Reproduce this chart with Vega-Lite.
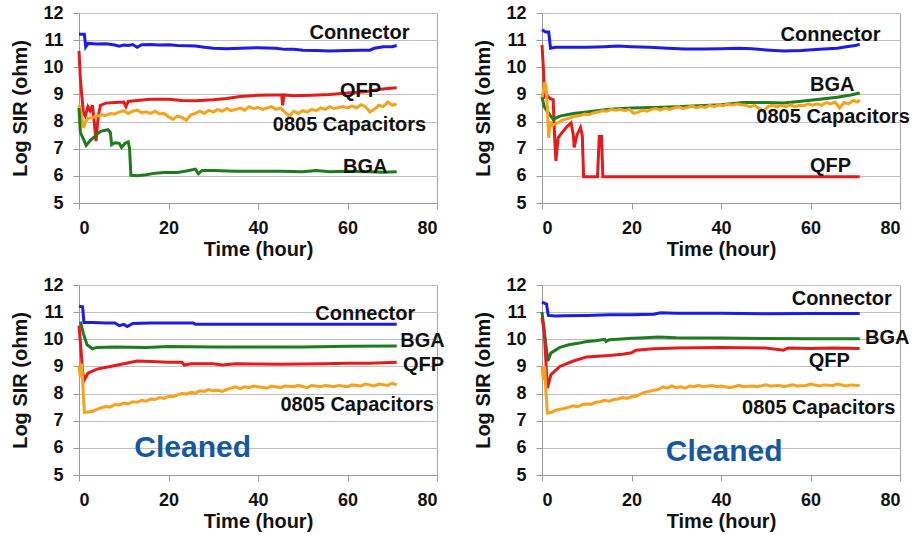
{
 "$schema": "https://vega.github.io/schema/vega-lite/v6.json",
 "padding": {"left": 10, "top": 3, "right": 5, "bottom": 5},
 "config": {
  "font": "Liberation Sans",
  "view": {"stroke": "#a8a8a8", "strokeWidth": 1},
  "axis": {"labelFont": "Liberation Sans", "labelFontWeight": "bold", "labelFontSize": 18, "labelColor": "#111111", "titleFont": "Liberation Sans", "titleFontWeight": "bold", "titleFontSize": 20, "titleColor": "#111111", "domainColor": "#9a9a9a", "tickColor": "#9a9a9a", "tickSize": 6, "gridColor": "#c0c0c0", "labelPadding": 10, "labelOverlap": false, "labelBound": false},
  "line": {"strokeWidth": 3},
  "text": {"font": "Liberation Sans", "fontWeight": "bold"}
 },
 "data": {"values": [
  {"p":1,"s":"Connector","t":0,"v":11.22},{"p":1,"s":"Connector","t":1.2,"v":11.22},{"p":1,"s":"Connector","t":1.5,"v":10.75},{"p":1,"s":"Connector","t":2,"v":10.88},{"p":1,"s":"Connector","t":4,"v":10.86},{"p":1,"s":"Connector","t":6,"v":10.87},{"p":1,"s":"Connector","t":8,"v":10.82},{"p":1,"s":"Connector","t":9,"v":10.78},{"p":1,"s":"Connector","t":10,"v":10.82},{"p":1,"s":"Connector","t":11,"v":10.8},{"p":1,"s":"Connector","t":12,"v":10.84},{"p":1,"s":"Connector","t":13,"v":10.74},{"p":1,"s":"Connector","t":14,"v":10.83},{"p":1,"s":"Connector","t":16,"v":10.84},{"p":1,"s":"Connector","t":18,"v":10.82},{"p":1,"s":"Connector","t":20,"v":10.83},{"p":1,"s":"Connector","t":22,"v":10.8},{"p":1,"s":"Connector","t":24,"v":10.79},{"p":1,"s":"Connector","t":26,"v":10.78},{"p":1,"s":"Connector","t":28,"v":10.74},{"p":1,"s":"Connector","t":30,"v":10.7},{"p":1,"s":"Connector","t":33,"v":10.68},{"p":1,"s":"Connector","t":36,"v":10.7},{"p":1,"s":"Connector","t":40,"v":10.72},{"p":1,"s":"Connector","t":44,"v":10.7},{"p":1,"s":"Connector","t":46,"v":10.66},{"p":1,"s":"Connector","t":48,"v":10.66},{"p":1,"s":"Connector","t":50,"v":10.63},{"p":1,"s":"Connector","t":53,"v":10.62},{"p":1,"s":"Connector","t":56,"v":10.6},{"p":1,"s":"Connector","t":60,"v":10.62},{"p":1,"s":"Connector","t":63,"v":10.63},{"p":1,"s":"Connector","t":65,"v":10.63},{"p":1,"s":"Connector","t":66,"v":10.7},{"p":1,"s":"Connector","t":68,"v":10.76},{"p":1,"s":"Connector","t":70,"v":10.76},{"p":1,"s":"Connector","t":71,"v":10.8},

  {"p":1,"s":"QFP","t":0,"v":10.6},{"p":1,"s":"QFP","t":0.3,"v":9.6},{"p":1,"s":"QFP","t":0.6,"v":9.0},{"p":1,"s":"QFP","t":1,"v":8.3},{"p":1,"s":"QFP","t":1.4,"v":8.2},{"p":1,"s":"QFP","t":2,"v":8.55},{"p":1,"s":"QFP","t":2.5,"v":8.4},{"p":1,"s":"QFP","t":3,"v":8.6},{"p":1,"s":"QFP","t":3.4,"v":8.0},{"p":1,"s":"QFP","t":3.8,"v":7.28},{"p":1,"s":"QFP","t":4.3,"v":8.2},{"p":1,"s":"QFP","t":4.8,"v":8.6},{"p":1,"s":"QFP","t":6,"v":8.68},{"p":1,"s":"QFP","t":8,"v":8.7},{"p":1,"s":"QFP","t":10,"v":8.72},{"p":1,"s":"QFP","t":10.5,"v":8.55},{"p":1,"s":"QFP","t":11,"v":8.74},{"p":1,"s":"QFP","t":13,"v":8.78},{"p":1,"s":"QFP","t":16,"v":8.82},{"p":1,"s":"QFP","t":20,"v":8.82},{"p":1,"s":"QFP","t":23,"v":8.78},{"p":1,"s":"QFP","t":26,"v":8.77},{"p":1,"s":"QFP","t":30,"v":8.8},{"p":1,"s":"QFP","t":33,"v":8.85},{"p":1,"s":"QFP","t":36,"v":8.92},{"p":1,"s":"QFP","t":40,"v":8.97},{"p":1,"s":"QFP","t":43,"v":8.98},{"p":1,"s":"QFP","t":45.3,"v":8.98},{"p":1,"s":"QFP","t":45.5,"v":8.6},{"p":1,"s":"QFP","t":45.8,"v":8.98},{"p":1,"s":"QFP","t":48,"v":8.95},{"p":1,"s":"QFP","t":52,"v":8.97},{"p":1,"s":"QFP","t":56,"v":9.0},{"p":1,"s":"QFP","t":60,"v":9.05},{"p":1,"s":"QFP","t":64,"v":9.1},{"p":1,"s":"QFP","t":67,"v":9.18},{"p":1,"s":"QFP","t":69,"v":9.22},{"p":1,"s":"QFP","t":71,"v":9.25},

  {"p":1,"s":"0805 Capacitors","t":0,"v":8.62},{"p":1,"s":"0805 Capacitors","t":0.5,"v":8.3},{"p":1,"s":"0805 Capacitors","t":1,"v":7.76},{"p":1,"s":"0805 Capacitors","t":1.5,"v":8.0},{"p":1,"s":"0805 Capacitors","t":2,"v":8.12},{"p":1,"s":"0805 Capacitors","t":3,"v":8.15},{"p":1,"s":"0805 Capacitors","t":4,"v":8.2},{"p":1,"s":"0805 Capacitors","t":5,"v":8.25},{"p":1,"s":"0805 Capacitors","t":6,"v":8.22},{"p":1,"s":"0805 Capacitors","t":7,"v":8.3},{"p":1,"s":"0805 Capacitors","t":8,"v":8.28},{"p":1,"s":"0805 Capacitors","t":9,"v":8.35},{"p":1,"s":"0805 Capacitors","t":10,"v":8.4},{"p":1,"s":"0805 Capacitors","t":11,"v":8.3},{"p":1,"s":"0805 Capacitors","t":12,"v":8.38},{"p":1,"s":"0805 Capacitors","t":13,"v":8.42},{"p":1,"s":"0805 Capacitors","t":14,"v":8.33},{"p":1,"s":"0805 Capacitors","t":15,"v":8.36},{"p":1,"s":"0805 Capacitors","t":16,"v":8.3},{"p":1,"s":"0805 Capacitors","t":17,"v":8.38},{"p":1,"s":"0805 Capacitors","t":18,"v":8.28},{"p":1,"s":"0805 Capacitors","t":19,"v":8.3},{"p":1,"s":"0805 Capacitors","t":20,"v":8.18},{"p":1,"s":"0805 Capacitors","t":21,"v":8.08},{"p":1,"s":"0805 Capacitors","t":22,"v":8.2},{"p":1,"s":"0805 Capacitors","t":23,"v":8.15},{"p":1,"s":"0805 Capacitors","t":24,"v":8.05},{"p":1,"s":"0805 Capacitors","t":25,"v":8.25},{"p":1,"s":"0805 Capacitors","t":26,"v":8.3},{"p":1,"s":"0805 Capacitors","t":27,"v":8.38},{"p":1,"s":"0805 Capacitors","t":28,"v":8.3},{"p":1,"s":"0805 Capacitors","t":29,"v":8.42},{"p":1,"s":"0805 Capacitors","t":30,"v":8.35},{"p":1,"s":"0805 Capacitors","t":31,"v":8.45},{"p":1,"s":"0805 Capacitors","t":32,"v":8.38},{"p":1,"s":"0805 Capacitors","t":33,"v":8.48},{"p":1,"s":"0805 Capacitors","t":34,"v":8.4},{"p":1,"s":"0805 Capacitors","t":35,"v":8.45},{"p":1,"s":"0805 Capacitors","t":36,"v":8.5},{"p":1,"s":"0805 Capacitors","t":37,"v":8.42},{"p":1,"s":"0805 Capacitors","t":38,"v":8.55},{"p":1,"s":"0805 Capacitors","t":39,"v":8.48},{"p":1,"s":"0805 Capacitors","t":40,"v":8.52},{"p":1,"s":"0805 Capacitors","t":41,"v":8.45},{"p":1,"s":"0805 Capacitors","t":42,"v":8.5},{"p":1,"s":"0805 Capacitors","t":43,"v":8.55},{"p":1,"s":"0805 Capacitors","t":44,"v":8.45},{"p":1,"s":"0805 Capacitors","t":45,"v":8.5},{"p":1,"s":"0805 Capacitors","t":46,"v":8.35},{"p":1,"s":"0805 Capacitors","t":47,"v":8.2},{"p":1,"s":"0805 Capacitors","t":48,"v":8.38},{"p":1,"s":"0805 Capacitors","t":49,"v":8.3},{"p":1,"s":"0805 Capacitors","t":50,"v":8.4},{"p":1,"s":"0805 Capacitors","t":51,"v":8.35},{"p":1,"s":"0805 Capacitors","t":52,"v":8.45},{"p":1,"s":"0805 Capacitors","t":53,"v":8.4},{"p":1,"s":"0805 Capacitors","t":54,"v":8.5},{"p":1,"s":"0805 Capacitors","t":55,"v":8.45},{"p":1,"s":"0805 Capacitors","t":56,"v":8.55},{"p":1,"s":"0805 Capacitors","t":57,"v":8.48},{"p":1,"s":"0805 Capacitors","t":58,"v":8.52},{"p":1,"s":"0805 Capacitors","t":59,"v":8.55},{"p":1,"s":"0805 Capacitors","t":60,"v":8.5},{"p":1,"s":"0805 Capacitors","t":61,"v":8.58},{"p":1,"s":"0805 Capacitors","t":62,"v":8.5},{"p":1,"s":"0805 Capacitors","t":63,"v":8.62},{"p":1,"s":"0805 Capacitors","t":64,"v":8.55},{"p":1,"s":"0805 Capacitors","t":65,"v":8.35},{"p":1,"s":"0805 Capacitors","t":66,"v":8.45},{"p":1,"s":"0805 Capacitors","t":67,"v":8.6},{"p":1,"s":"0805 Capacitors","t":68,"v":8.55},{"p":1,"s":"0805 Capacitors","t":69,"v":8.72},{"p":1,"s":"0805 Capacitors","t":70,"v":8.6},{"p":1,"s":"0805 Capacitors","t":71,"v":8.65},

  {"p":1,"s":"BGA","t":0,"v":8.5},{"p":1,"s":"BGA","t":0.3,"v":7.6},{"p":1,"s":"BGA","t":1,"v":7.35},{"p":1,"s":"BGA","t":1.6,"v":7.12},{"p":1,"s":"BGA","t":2.5,"v":7.3},{"p":1,"s":"BGA","t":3.5,"v":7.45},{"p":1,"s":"BGA","t":4.5,"v":7.6},{"p":1,"s":"BGA","t":5,"v":7.65},{"p":1,"s":"BGA","t":6.5,"v":7.7},{"p":1,"s":"BGA","t":7,"v":7.6},{"p":1,"s":"BGA","t":7.3,"v":7.15},{"p":1,"s":"BGA","t":8,"v":7.22},{"p":1,"s":"BGA","t":9,"v":7.2},{"p":1,"s":"BGA","t":9.5,"v":7.05},{"p":1,"s":"BGA","t":10.3,"v":7.2},{"p":1,"s":"BGA","t":11,"v":7.25},{"p":1,"s":"BGA","t":11.3,"v":7.0},{"p":1,"s":"BGA","t":11.6,"v":6.02},{"p":1,"s":"BGA","t":13,"v":6.0},{"p":1,"s":"BGA","t":15,"v":6.04},{"p":1,"s":"BGA","t":17,"v":6.1},{"p":1,"s":"BGA","t":19,"v":6.12},{"p":1,"s":"BGA","t":22,"v":6.12},{"p":1,"s":"BGA","t":24,"v":6.18},{"p":1,"s":"BGA","t":26,"v":6.25},{"p":1,"s":"BGA","t":26.7,"v":6.08},{"p":1,"s":"BGA","t":27.5,"v":6.2},{"p":1,"s":"BGA","t":30,"v":6.2},{"p":1,"s":"BGA","t":35,"v":6.17},{"p":1,"s":"BGA","t":40,"v":6.17},{"p":1,"s":"BGA","t":45,"v":6.17},{"p":1,"s":"BGA","t":50,"v":6.15},{"p":1,"s":"BGA","t":53,"v":6.2},{"p":1,"s":"BGA","t":56,"v":6.15},{"p":1,"s":"BGA","t":60,"v":6.17},{"p":1,"s":"BGA","t":65,"v":6.15},{"p":1,"s":"BGA","t":68,"v":6.13},{"p":1,"s":"BGA","t":71,"v":6.15},

  {"p":2,"s":"Connector","t":0,"v":11.38},{"p":2,"s":"Connector","t":0.8,"v":11.3},{"p":2,"s":"Connector","t":1.5,"v":11.3},{"p":2,"s":"Connector","t":1.9,"v":10.7},{"p":2,"s":"Connector","t":3,"v":10.74},{"p":2,"s":"Connector","t":6,"v":10.74},{"p":2,"s":"Connector","t":10,"v":10.74},{"p":2,"s":"Connector","t":14,"v":10.76},{"p":2,"s":"Connector","t":17,"v":10.78},{"p":2,"s":"Connector","t":20,"v":10.76},{"p":2,"s":"Connector","t":24,"v":10.74},{"p":2,"s":"Connector","t":28,"v":10.7},{"p":2,"s":"Connector","t":32,"v":10.67},{"p":2,"s":"Connector","t":36,"v":10.67},{"p":2,"s":"Connector","t":40,"v":10.68},{"p":2,"s":"Connector","t":44,"v":10.7},{"p":2,"s":"Connector","t":47,"v":10.68},{"p":2,"s":"Connector","t":50,"v":10.64},{"p":2,"s":"Connector","t":54,"v":10.6},{"p":2,"s":"Connector","t":58,"v":10.62},{"p":2,"s":"Connector","t":62,"v":10.66},{"p":2,"s":"Connector","t":66,"v":10.7},{"p":2,"s":"Connector","t":68,"v":10.76},{"p":2,"s":"Connector","t":70,"v":10.8},{"p":2,"s":"Connector","t":71,"v":10.85},

  {"p":2,"s":"QFP","t":0,"v":10.82},{"p":2,"s":"QFP","t":0.3,"v":10.0},{"p":2,"s":"QFP","t":0.6,"v":8.9},{"p":2,"s":"QFP","t":1.2,"v":8.95},{"p":2,"s":"QFP","t":1.8,"v":8.85},{"p":2,"s":"QFP","t":2.5,"v":8.8},{"p":2,"s":"QFP","t":2.8,"v":7.5},{"p":2,"s":"QFP","t":3.1,"v":6.55},{"p":2,"s":"QFP","t":3.6,"v":7.4},{"p":2,"s":"QFP","t":4.5,"v":7.6},{"p":2,"s":"QFP","t":5.5,"v":7.8},{"p":2,"s":"QFP","t":6.5,"v":7.95},{"p":2,"s":"QFP","t":7,"v":7.5},{"p":2,"s":"QFP","t":7.2,"v":7.05},{"p":2,"s":"QFP","t":7.8,"v":7.5},{"p":2,"s":"QFP","t":8.6,"v":7.78},{"p":2,"s":"QFP","t":9,"v":7.5},{"p":2,"s":"QFP","t":9.3,"v":5.97},{"p":2,"s":"QFP","t":12.4,"v":5.97},{"p":2,"s":"QFP","t":12.8,"v":7.45},{"p":2,"s":"QFP","t":13.3,"v":7.45},{"p":2,"s":"QFP","t":13.6,"v":5.97},{"p":2,"s":"QFP","t":71,"v":5.97},

  {"p":2,"s":"BGA","t":0,"v":8.9},{"p":2,"s":"BGA","t":0.5,"v":8.55},{"p":2,"s":"BGA","t":1.5,"v":8.3},{"p":2,"s":"BGA","t":2.5,"v":8.08},{"p":2,"s":"BGA","t":4,"v":8.2},{"p":2,"s":"BGA","t":7,"v":8.3},{"p":2,"s":"BGA","t":10,"v":8.35},{"p":2,"s":"BGA","t":15,"v":8.45},{"p":2,"s":"BGA","t":20,"v":8.5},{"p":2,"s":"BGA","t":25,"v":8.52},{"p":2,"s":"BGA","t":30,"v":8.55},{"p":2,"s":"BGA","t":35,"v":8.58},{"p":2,"s":"BGA","t":40,"v":8.62},{"p":2,"s":"BGA","t":45,"v":8.7},{"p":2,"s":"BGA","t":50,"v":8.7},{"p":2,"s":"BGA","t":54,"v":8.68},{"p":2,"s":"BGA","t":58,"v":8.75},{"p":2,"s":"BGA","t":62,"v":8.82},{"p":2,"s":"BGA","t":66,"v":8.9},{"p":2,"s":"BGA","t":69,"v":8.98},{"p":2,"s":"BGA","t":71,"v":9.05},

  {"p":2,"s":"0805 Capacitors","t":0,"v":8.9},{"p":2,"s":"0805 Capacitors","t":0.3,"v":9.1},{"p":2,"s":"0805 Capacitors","t":0.6,"v":9.45},{"p":2,"s":"0805 Capacitors","t":0.9,"v":9.3},{"p":2,"s":"0805 Capacitors","t":1.2,"v":8.5},{"p":2,"s":"0805 Capacitors","t":1.5,"v":7.4},{"p":2,"s":"0805 Capacitors","t":1.8,"v":8.0},{"p":2,"s":"0805 Capacitors","t":2.2,"v":7.85},{"p":2,"s":"0805 Capacitors","t":2.8,"v":7.9},{"p":2,"s":"0805 Capacitors","t":3.5,"v":7.95},{"p":2,"s":"0805 Capacitors","t":4.5,"v":8.05},{"p":2,"s":"0805 Capacitors","t":5.5,"v":8.1},{"p":2,"s":"0805 Capacitors","t":6.5,"v":8.15},{"p":2,"s":"0805 Capacitors","t":7.5,"v":8.2},{"p":2,"s":"0805 Capacitors","t":8.5,"v":8.22},{"p":2,"s":"0805 Capacitors","t":9.5,"v":8.28},{"p":2,"s":"0805 Capacitors","t":10.5,"v":8.25},{"p":2,"s":"0805 Capacitors","t":11.5,"v":8.32},{"p":2,"s":"0805 Capacitors","t":12.5,"v":8.35},{"p":2,"s":"0805 Capacitors","t":13.5,"v":8.4},{"p":2,"s":"0805 Capacitors","t":14.5,"v":8.38},{"p":2,"s":"0805 Capacitors","t":15.5,"v":8.45},{"p":2,"s":"0805 Capacitors","t":16.5,"v":8.42},{"p":2,"s":"0805 Capacitors","t":17.5,"v":8.45},{"p":2,"s":"0805 Capacitors","t":18.5,"v":8.4},{"p":2,"s":"0805 Capacitors","t":19.5,"v":8.45},{"p":2,"s":"0805 Capacitors","t":20.5,"v":8.3},{"p":2,"s":"0805 Capacitors","t":21.5,"v":8.35},{"p":2,"s":"0805 Capacitors","t":22.5,"v":8.42},{"p":2,"s":"0805 Capacitors","t":23.5,"v":8.38},{"p":2,"s":"0805 Capacitors","t":24.5,"v":8.45},{"p":2,"s":"0805 Capacitors","t":25.5,"v":8.48},{"p":2,"s":"0805 Capacitors","t":26.5,"v":8.42},{"p":2,"s":"0805 Capacitors","t":27.5,"v":8.5},{"p":2,"s":"0805 Capacitors","t":28.5,"v":8.45},{"p":2,"s":"0805 Capacitors","t":29.5,"v":8.5},{"p":2,"s":"0805 Capacitors","t":30.5,"v":8.55},{"p":2,"s":"0805 Capacitors","t":31.5,"v":8.48},{"p":2,"s":"0805 Capacitors","t":32.5,"v":8.52},{"p":2,"s":"0805 Capacitors","t":33.5,"v":8.58},{"p":2,"s":"0805 Capacitors","t":34.5,"v":8.5},{"p":2,"s":"0805 Capacitors","t":35.5,"v":8.55},{"p":2,"s":"0805 Capacitors","t":36.5,"v":8.52},{"p":2,"s":"0805 Capacitors","t":37.5,"v":8.6},{"p":2,"s":"0805 Capacitors","t":38.5,"v":8.55},{"p":2,"s":"0805 Capacitors","t":39.5,"v":8.62},{"p":2,"s":"0805 Capacitors","t":40.5,"v":8.58},{"p":2,"s":"0805 Capacitors","t":41.5,"v":8.65},{"p":2,"s":"0805 Capacitors","t":42.5,"v":8.6},{"p":2,"s":"0805 Capacitors","t":43.5,"v":8.65},{"p":2,"s":"0805 Capacitors","t":44.5,"v":8.62},{"p":2,"s":"0805 Capacitors","t":45.5,"v":8.6},{"p":2,"s":"0805 Capacitors","t":46.5,"v":8.55},{"p":2,"s":"0805 Capacitors","t":47.5,"v":8.6},{"p":2,"s":"0805 Capacitors","t":48.5,"v":8.48},{"p":2,"s":"0805 Capacitors","t":49.5,"v":8.38},{"p":2,"s":"0805 Capacitors","t":50.5,"v":8.55},{"p":2,"s":"0805 Capacitors","t":51.5,"v":8.6},{"p":2,"s":"0805 Capacitors","t":52.5,"v":8.55},{"p":2,"s":"0805 Capacitors","t":53.5,"v":8.6},{"p":2,"s":"0805 Capacitors","t":54.5,"v":8.55},{"p":2,"s":"0805 Capacitors","t":55.5,"v":8.62},{"p":2,"s":"0805 Capacitors","t":56.5,"v":8.55},{"p":2,"s":"0805 Capacitors","t":57.5,"v":8.6},{"p":2,"s":"0805 Capacitors","t":58.5,"v":8.58},{"p":2,"s":"0805 Capacitors","t":59.5,"v":8.65},{"p":2,"s":"0805 Capacitors","t":60.5,"v":8.6},{"p":2,"s":"0805 Capacitors","t":61.5,"v":8.65},{"p":2,"s":"0805 Capacitors","t":62.5,"v":8.6},{"p":2,"s":"0805 Capacitors","t":63.5,"v":8.7},{"p":2,"s":"0805 Capacitors","t":64.5,"v":8.65},{"p":2,"s":"0805 Capacitors","t":65.5,"v":8.72},{"p":2,"s":"0805 Capacitors","t":66.5,"v":8.5},{"p":2,"s":"0805 Capacitors","t":67.5,"v":8.7},{"p":2,"s":"0805 Capacitors","t":68.5,"v":8.65},{"p":2,"s":"0805 Capacitors","t":69.5,"v":8.78},{"p":2,"s":"0805 Capacitors","t":70.5,"v":8.72},{"p":2,"s":"0805 Capacitors","t":71,"v":8.8},

  {"p":3,"s":"Connector","t":0,"v":11.22},{"p":3,"s":"Connector","t":0.8,"v":11.2},{"p":3,"s":"Connector","t":1.1,"v":10.62},{"p":3,"s":"Connector","t":3,"v":10.62},{"p":3,"s":"Connector","t":6,"v":10.6},{"p":3,"s":"Connector","t":8,"v":10.6},{"p":3,"s":"Connector","t":9,"v":10.5},{"p":3,"s":"Connector","t":10,"v":10.55},{"p":3,"s":"Connector","t":10.8,"v":10.47},{"p":3,"s":"Connector","t":12,"v":10.58},{"p":3,"s":"Connector","t":16,"v":10.6},{"p":3,"s":"Connector","t":20,"v":10.6},{"p":3,"s":"Connector","t":25.5,"v":10.6},{"p":3,"s":"Connector","t":26,"v":10.55},{"p":3,"s":"Connector","t":40,"v":10.55},{"p":3,"s":"Connector","t":55,"v":10.55},{"p":3,"s":"Connector","t":71,"v":10.55},

  {"p":3,"s":"BGA","t":0.3,"v":10.65},{"p":3,"s":"BGA","t":1,"v":10.2},{"p":3,"s":"BGA","t":1.8,"v":9.8},{"p":3,"s":"BGA","t":3,"v":9.65},{"p":3,"s":"BGA","t":4,"v":9.7},{"p":3,"s":"BGA","t":8,"v":9.72},{"p":3,"s":"BGA","t":15,"v":9.7},{"p":3,"s":"BGA","t":20,"v":9.73},{"p":3,"s":"BGA","t":30,"v":9.72},{"p":3,"s":"BGA","t":40,"v":9.72},{"p":3,"s":"BGA","t":50,"v":9.72},{"p":3,"s":"BGA","t":60,"v":9.74},{"p":3,"s":"BGA","t":71,"v":9.75},

  {"p":3,"s":"QFP","t":0,"v":10.5},{"p":3,"s":"QFP","t":0.5,"v":9.5},{"p":3,"s":"QFP","t":0.8,"v":8.8},{"p":3,"s":"QFP","t":1.2,"v":8.5},{"p":3,"s":"QFP","t":2,"v":8.75},{"p":3,"s":"QFP","t":4,"v":8.9},{"p":3,"s":"QFP","t":7,"v":9.0},{"p":3,"s":"QFP","t":10,"v":9.1},{"p":3,"s":"QFP","t":13,"v":9.2},{"p":3,"s":"QFP","t":16,"v":9.18},{"p":3,"s":"QFP","t":20,"v":9.15},{"p":3,"s":"QFP","t":23,"v":9.15},{"p":3,"s":"QFP","t":23.5,"v":9.05},{"p":3,"s":"QFP","t":25,"v":9.1},{"p":3,"s":"QFP","t":30,"v":9.1},{"p":3,"s":"QFP","t":32,"v":9.05},{"p":3,"s":"QFP","t":35,"v":9.1},{"p":3,"s":"QFP","t":45,"v":9.08},{"p":3,"s":"QFP","t":55,"v":9.1},{"p":3,"s":"QFP","t":60,"v":9.12},{"p":3,"s":"QFP","t":65,"v":9.12},{"p":3,"s":"QFP","t":71,"v":9.15},

  {"p":3,"s":"0805 Capacitors","t":0,"v":9.0},{"p":3,"s":"0805 Capacitors","t":0.3,"v":8.6},{"p":3,"s":"0805 Capacitors","t":0.6,"v":9.1},{"p":3,"s":"0805 Capacitors","t":0.9,"v":8.2},{"p":3,"s":"0805 Capacitors","t":1.2,"v":7.3},{"p":3,"s":"0805 Capacitors","t":2,"v":7.32},{"p":3,"s":"0805 Capacitors","t":3,"v":7.35},{"p":3,"s":"0805 Capacitors","t":4,"v":7.42},{"p":3,"s":"0805 Capacitors","t":5,"v":7.48},{"p":3,"s":"0805 Capacitors","t":6,"v":7.52},{"p":3,"s":"0805 Capacitors","t":7,"v":7.5},{"p":3,"s":"0805 Capacitors","t":8,"v":7.6},{"p":3,"s":"0805 Capacitors","t":9,"v":7.58},{"p":3,"s":"0805 Capacitors","t":10,"v":7.65},{"p":3,"s":"0805 Capacitors","t":11,"v":7.62},{"p":3,"s":"0805 Capacitors","t":12,"v":7.7},{"p":3,"s":"0805 Capacitors","t":13,"v":7.68},{"p":3,"s":"0805 Capacitors","t":14,"v":7.75},{"p":3,"s":"0805 Capacitors","t":15,"v":7.72},{"p":3,"s":"0805 Capacitors","t":16,"v":7.8},{"p":3,"s":"0805 Capacitors","t":17,"v":7.78},{"p":3,"s":"0805 Capacitors","t":18,"v":7.85},{"p":3,"s":"0805 Capacitors","t":19,"v":7.82},{"p":3,"s":"0805 Capacitors","t":20,"v":7.9},{"p":3,"s":"0805 Capacitors","t":21,"v":7.88},{"p":3,"s":"0805 Capacitors","t":22,"v":7.95},{"p":3,"s":"0805 Capacitors","t":23,"v":8.0},{"p":3,"s":"0805 Capacitors","t":24,"v":7.98},{"p":3,"s":"0805 Capacitors","t":25,"v":8.05},{"p":3,"s":"0805 Capacitors","t":26,"v":8.02},{"p":3,"s":"0805 Capacitors","t":27,"v":8.1},{"p":3,"s":"0805 Capacitors","t":28,"v":8.08},{"p":3,"s":"0805 Capacitors","t":29,"v":8.15},{"p":3,"s":"0805 Capacitors","t":30,"v":8.1},{"p":3,"s":"0805 Capacitors","t":31,"v":8.12},{"p":3,"s":"0805 Capacitors","t":32,"v":8.08},{"p":3,"s":"0805 Capacitors","t":33,"v":8.15},{"p":3,"s":"0805 Capacitors","t":34,"v":8.2},{"p":3,"s":"0805 Capacitors","t":35,"v":8.25},{"p":3,"s":"0805 Capacitors","t":36,"v":8.18},{"p":3,"s":"0805 Capacitors","t":37,"v":8.25},{"p":3,"s":"0805 Capacitors","t":38,"v":8.22},{"p":3,"s":"0805 Capacitors","t":39,"v":8.28},{"p":3,"s":"0805 Capacitors","t":40,"v":8.25},{"p":3,"s":"0805 Capacitors","t":42,"v":8.2},{"p":3,"s":"0805 Capacitors","t":43,"v":8.28},{"p":3,"s":"0805 Capacitors","t":45,"v":8.22},{"p":3,"s":"0805 Capacitors","t":46,"v":8.28},{"p":3,"s":"0805 Capacitors","t":48,"v":8.25},{"p":3,"s":"0805 Capacitors","t":49,"v":8.3},{"p":3,"s":"0805 Capacitors","t":51,"v":8.22},{"p":3,"s":"0805 Capacitors","t":52,"v":8.3},{"p":3,"s":"0805 Capacitors","t":54,"v":8.25},{"p":3,"s":"0805 Capacitors","t":55,"v":8.3},{"p":3,"s":"0805 Capacitors","t":57,"v":8.25},{"p":3,"s":"0805 Capacitors","t":58,"v":8.3},{"p":3,"s":"0805 Capacitors","t":60,"v":8.25},{"p":3,"s":"0805 Capacitors","t":61,"v":8.32},{"p":3,"s":"0805 Capacitors","t":63,"v":8.28},{"p":3,"s":"0805 Capacitors","t":64,"v":8.35},{"p":3,"s":"0805 Capacitors","t":66,"v":8.28},{"p":3,"s":"0805 Capacitors","t":67,"v":8.35},{"p":3,"s":"0805 Capacitors","t":69,"v":8.3},{"p":3,"s":"0805 Capacitors","t":70,"v":8.38},{"p":3,"s":"0805 Capacitors","t":71,"v":8.32},

  {"p":4,"s":"Connector","t":0,"v":11.37},{"p":4,"s":"Connector","t":1,"v":11.3},{"p":4,"s":"Connector","t":1.4,"v":10.88},{"p":4,"s":"Connector","t":3,"v":10.86},{"p":4,"s":"Connector","t":5,"v":10.87},{"p":4,"s":"Connector","t":10,"v":10.88},{"p":4,"s":"Connector","t":15,"v":10.9},{"p":4,"s":"Connector","t":20,"v":10.9},{"p":4,"s":"Connector","t":25,"v":10.92},{"p":4,"s":"Connector","t":26.5,"v":10.98},{"p":4,"s":"Connector","t":30,"v":10.96},{"p":4,"s":"Connector","t":40,"v":10.96},{"p":4,"s":"Connector","t":50,"v":10.94},{"p":4,"s":"Connector","t":60,"v":10.95},{"p":4,"s":"Connector","t":71,"v":10.95},

  {"p":4,"s":"BGA","t":0,"v":11.0},{"p":4,"s":"BGA","t":0.5,"v":10.3},{"p":4,"s":"BGA","t":1.3,"v":9.2},{"p":4,"s":"BGA","t":2,"v":9.5},{"p":4,"s":"BGA","t":4,"v":9.7},{"p":4,"s":"BGA","t":6,"v":9.8},{"p":4,"s":"BGA","t":8,"v":9.85},{"p":4,"s":"BGA","t":10,"v":9.92},{"p":4,"s":"BGA","t":12,"v":9.95},{"p":4,"s":"BGA","t":14,"v":10.0},{"p":4,"s":"BGA","t":14.3,"v":9.92},{"p":4,"s":"BGA","t":15,"v":9.98},{"p":4,"s":"BGA","t":17,"v":10.0},{"p":4,"s":"BGA","t":20,"v":10.04},{"p":4,"s":"BGA","t":22,"v":10.05},{"p":4,"s":"BGA","t":26,"v":10.08},{"p":4,"s":"BGA","t":30,"v":10.06},{"p":4,"s":"BGA","t":40,"v":10.05},{"p":4,"s":"BGA","t":50,"v":10.03},{"p":4,"s":"BGA","t":60,"v":10.02},{"p":4,"s":"BGA","t":71,"v":10.02},

  {"p":4,"s":"QFP","t":0,"v":10.8},{"p":4,"s":"QFP","t":0.5,"v":10.3},{"p":4,"s":"QFP","t":1.2,"v":8.2},{"p":4,"s":"QFP","t":2,"v":8.7},{"p":4,"s":"QFP","t":4,"v":9.0},{"p":4,"s":"QFP","t":7,"v":9.2},{"p":4,"s":"QFP","t":10,"v":9.35},{"p":4,"s":"QFP","t":15,"v":9.4},{"p":4,"s":"QFP","t":18,"v":9.45},{"p":4,"s":"QFP","t":20,"v":9.5},{"p":4,"s":"QFP","t":21,"v":9.6},{"p":4,"s":"QFP","t":25,"v":9.65},{"p":4,"s":"QFP","t":30,"v":9.68},{"p":4,"s":"QFP","t":40,"v":9.7},{"p":4,"s":"QFP","t":50,"v":9.68},{"p":4,"s":"QFP","t":54,"v":9.6},{"p":4,"s":"QFP","t":55,"v":9.68},{"p":4,"s":"QFP","t":60,"v":9.66},{"p":4,"s":"QFP","t":65,"v":9.68},{"p":4,"s":"QFP","t":71,"v":9.66},

  {"p":4,"s":"0805 Capacitors","t":0,"v":9.0},{"p":4,"s":"0805 Capacitors","t":0.3,"v":8.5},{"p":4,"s":"0805 Capacitors","t":0.6,"v":9.0},{"p":4,"s":"0805 Capacitors","t":0.9,"v":8.0},{"p":4,"s":"0805 Capacitors","t":1.2,"v":7.28},{"p":4,"s":"0805 Capacitors","t":2,"v":7.3},{"p":4,"s":"0805 Capacitors","t":3,"v":7.38},{"p":4,"s":"0805 Capacitors","t":4,"v":7.42},{"p":4,"s":"0805 Capacitors","t":5,"v":7.45},{"p":4,"s":"0805 Capacitors","t":6,"v":7.5},{"p":4,"s":"0805 Capacitors","t":7,"v":7.55},{"p":4,"s":"0805 Capacitors","t":8,"v":7.52},{"p":4,"s":"0805 Capacitors","t":9,"v":7.6},{"p":4,"s":"0805 Capacitors","t":10,"v":7.62},{"p":4,"s":"0805 Capacitors","t":11,"v":7.6},{"p":4,"s":"0805 Capacitors","t":12,"v":7.68},{"p":4,"s":"0805 Capacitors","t":13,"v":7.7},{"p":4,"s":"0805 Capacitors","t":14,"v":7.75},{"p":4,"s":"0805 Capacitors","t":15,"v":7.72},{"p":4,"s":"0805 Capacitors","t":16,"v":7.78},{"p":4,"s":"0805 Capacitors","t":17,"v":7.8},{"p":4,"s":"0805 Capacitors","t":18,"v":7.85},{"p":4,"s":"0805 Capacitors","t":19,"v":7.82},{"p":4,"s":"0805 Capacitors","t":20,"v":7.88},{"p":4,"s":"0805 Capacitors","t":21,"v":7.9},{"p":4,"s":"0805 Capacitors","t":22,"v":7.98},{"p":4,"s":"0805 Capacitors","t":23,"v":8.05},{"p":4,"s":"0805 Capacitors","t":24,"v":8.08},{"p":4,"s":"0805 Capacitors","t":25,"v":8.12},{"p":4,"s":"0805 Capacitors","t":26,"v":8.15},{"p":4,"s":"0805 Capacitors","t":27,"v":8.25},{"p":4,"s":"0805 Capacitors","t":28,"v":8.2},{"p":4,"s":"0805 Capacitors","t":29,"v":8.28},{"p":4,"s":"0805 Capacitors","t":30,"v":8.22},{"p":4,"s":"0805 Capacitors","t":31,"v":8.25},{"p":4,"s":"0805 Capacitors","t":32,"v":8.2},{"p":4,"s":"0805 Capacitors","t":33,"v":8.28},{"p":4,"s":"0805 Capacitors","t":34,"v":8.25},{"p":4,"s":"0805 Capacitors","t":35,"v":8.3},{"p":4,"s":"0805 Capacitors","t":36,"v":8.25},{"p":4,"s":"0805 Capacitors","t":38,"v":8.3},{"p":4,"s":"0805 Capacitors","t":39,"v":8.25},{"p":4,"s":"0805 Capacitors","t":40,"v":8.28},{"p":4,"s":"0805 Capacitors","t":42,"v":8.22},{"p":4,"s":"0805 Capacitors","t":44,"v":8.3},{"p":4,"s":"0805 Capacitors","t":45,"v":8.25},{"p":4,"s":"0805 Capacitors","t":47,"v":8.28},{"p":4,"s":"0805 Capacitors","t":48,"v":8.25},{"p":4,"s":"0805 Capacitors","t":50,"v":8.32},{"p":4,"s":"0805 Capacitors","t":51,"v":8.28},{"p":4,"s":"0805 Capacitors","t":53,"v":8.3},{"p":4,"s":"0805 Capacitors","t":54,"v":8.25},{"p":4,"s":"0805 Capacitors","t":56,"v":8.32},{"p":4,"s":"0805 Capacitors","t":57,"v":8.28},{"p":4,"s":"0805 Capacitors","t":59,"v":8.3},{"p":4,"s":"0805 Capacitors","t":60,"v":8.35},{"p":4,"s":"0805 Capacitors","t":62,"v":8.28},{"p":4,"s":"0805 Capacitors","t":63,"v":8.32},{"p":4,"s":"0805 Capacitors","t":65,"v":8.3},{"p":4,"s":"0805 Capacitors","t":66,"v":8.35},{"p":4,"s":"0805 Capacitors","t":68,"v":8.28},{"p":4,"s":"0805 Capacitors","t":69,"v":8.32},{"p":4,"s":"0805 Capacitors","t":71,"v":8.3},

  {"p":1,"label":"Connector","t":51.5,"v":11.26},{"p":1,"label":"QFP","t":58.3,"v":9.13},{"p":1,"label":"0805 Capacitors","t":43.3,"v":7.89},{"p":1,"label":"BGA","t":59,"v":6.34},
  {"p":2,"label":"Connector","t":53.3,"v":11.19},{"p":2,"label":"BGA","t":59.9,"v":9.33},{"p":2,"label":"0805 Capacitors","t":47.9,"v":8.18},{"p":2,"label":"QFP","t":59.9,"v":6.35},
  {"p":3,"label":"Connector","t":52.8,"v":10.95},{"p":3,"label":"BGA","t":71.8,"v":9.95},{"p":3,"label":"QFP","t":72.4,"v":9.05},{"p":3,"label":"0805 Capacitors","t":45,"v":7.58},
  {"p":4,"label":"Connector","t":55.8,"v":11.49},{"p":4,"label":"BGA","t":72.2,"v":10.06},{"p":4,"label":"QFP","t":59.6,"v":9.19},{"p":4,"label":"0805 Capacitors","t":44.7,"v":7.46},
  {"p":3,"note":"Cleaned","t":25.4,"v":6.0},{"p":4,"note":"Cleaned","t":40.7,"v":5.83}
 ]},
 "columns": 2,
 "spacing": {"row": 82, "column": 105},
 "bounds": "flush",
 "concat": [
  {
   "width": 358, "height": 190,
   "transform": [{"filter": "datum.p === 1"}],
   "encoding": {
    "x": {"field": "t", "type": "quantitative", "scale": {"domain": [0, 80], "nice": false}, "axis": {"values": [0, 20, 40, 60, 80], "grid": false, "title": "Time (hour)", "titlePadding": 2, "labelOverlap": false}},
    "y": {"field": "v", "type": "quantitative", "scale": {"domain": [5, 12], "nice": false}, "axis": {"values": [5, 6, 7, 8, 9, 10, 11, 12], "tickCount": 8, "grid": true, "title": "Log SIR (ohm)", "titlePadding": 12, "labelOverlap": false}}
   },
   "layer": [
    {"transform": [{"filter": "isValid(datum.s)"}], "mark": {"type": "line", "strokeWidth": 3},
     "encoding": {"color": {"field": "s", "type": "nominal", "scale": {"domain": ["Connector", "QFP", "0805 Capacitors", "BGA"], "range": ["#1c1ce6", "#e51b1b", "#f7a21c", "#1e7b1e"]}, "legend": null}}},
    {"transform": [{"filter": "isValid(datum.label)"}], "mark": {"type": "text", "align": "left", "baseline": "middle", "fontSize": 20, "color": "#111111"},
     "encoding": {"text": {"field": "label"}}}
   ]
  },
  {
   "width": 358, "height": 190,
   "transform": [{"filter": "datum.p === 2"}],
   "encoding": {
    "x": {"field": "t", "type": "quantitative", "scale": {"domain": [0, 80], "nice": false}, "axis": {"values": [0, 20, 40, 60, 80], "grid": false, "title": "Time (hour)", "titlePadding": 2, "labelOverlap": false}},
    "y": {"field": "v", "type": "quantitative", "scale": {"domain": [5, 12], "nice": false}, "axis": {"values": [5, 6, 7, 8, 9, 10, 11, 12], "tickCount": 8, "grid": true, "title": "Log SIR (ohm)", "titlePadding": 12, "labelOverlap": false}}
   },
   "layer": [
    {"transform": [{"filter": "isValid(datum.s)"}], "mark": {"type": "line", "strokeWidth": 3},
     "encoding": {"color": {"field": "s", "type": "nominal", "scale": {"domain": ["Connector", "QFP", "0805 Capacitors", "BGA"], "range": ["#1c1ce6", "#e51b1b", "#f7a21c", "#1e7b1e"]}, "legend": null}}},
    {"transform": [{"filter": "isValid(datum.label)"}], "mark": {"type": "text", "align": "left", "baseline": "middle", "fontSize": 20, "color": "#111111"},
     "encoding": {"text": {"field": "label"}}}
   ]
  },
  {
   "width": 358, "height": 190,
   "transform": [{"filter": "datum.p === 3"}],
   "encoding": {
    "x": {"field": "t", "type": "quantitative", "scale": {"domain": [0, 80], "nice": false}, "axis": {"values": [0, 20, 40, 60, 80], "grid": false, "title": "Time (hour)", "titlePadding": 2, "labelOverlap": false}},
    "y": {"field": "v", "type": "quantitative", "scale": {"domain": [5, 12], "nice": false}, "axis": {"values": [5, 6, 7, 8, 9, 10, 11, 12], "tickCount": 8, "grid": true, "title": "Log SIR (ohm)", "titlePadding": 12, "labelOverlap": false}}
   },
   "layer": [
    {"transform": [{"filter": "isValid(datum.s)"}], "mark": {"type": "line", "strokeWidth": 3},
     "encoding": {"color": {"field": "s", "type": "nominal", "scale": {"domain": ["Connector", "QFP", "0805 Capacitors", "BGA"], "range": ["#1c1ce6", "#e51b1b", "#f7a21c", "#1e7b1e"]}, "legend": null}}},
    {"transform": [{"filter": "isValid(datum.label)"}], "mark": {"type": "text", "align": "left", "baseline": "middle", "fontSize": 20, "color": "#111111"},
     "encoding": {"text": {"field": "label"}}},
    {"transform": [{"filter": "isValid(datum.note)"}], "mark": {"type": "text", "align": "center", "baseline": "middle", "fontSize": 30, "color": "#1458a2"},
     "encoding": {"text": {"field": "note"}}}
   ]
  },
  {
   "width": 358, "height": 190,
   "transform": [{"filter": "datum.p === 4"}],
   "encoding": {
    "x": {"field": "t", "type": "quantitative", "scale": {"domain": [0, 80], "nice": false}, "axis": {"values": [0, 20, 40, 60, 80], "grid": false, "title": "Time (hour)", "titlePadding": 2, "labelOverlap": false}},
    "y": {"field": "v", "type": "quantitative", "scale": {"domain": [5, 12], "nice": false}, "axis": {"values": [5, 6, 7, 8, 9, 10, 11, 12], "tickCount": 8, "grid": true, "title": "Log SIR (ohm)", "titlePadding": 12, "labelOverlap": false}}
   },
   "layer": [
    {"transform": [{"filter": "isValid(datum.s)"}], "mark": {"type": "line", "strokeWidth": 3},
     "encoding": {"color": {"field": "s", "type": "nominal", "scale": {"domain": ["Connector", "QFP", "0805 Capacitors", "BGA"], "range": ["#1c1ce6", "#e51b1b", "#f7a21c", "#1e7b1e"]}, "legend": null}}},
    {"transform": [{"filter": "isValid(datum.label)"}], "mark": {"type": "text", "align": "left", "baseline": "middle", "fontSize": 20, "color": "#111111"},
     "encoding": {"text": {"field": "label"}}},
    {"transform": [{"filter": "isValid(datum.note)"}], "mark": {"type": "text", "align": "center", "baseline": "middle", "fontSize": 30, "color": "#1458a2"},
     "encoding": {"text": {"field": "note"}}}
   ]
  }
 ]
}
